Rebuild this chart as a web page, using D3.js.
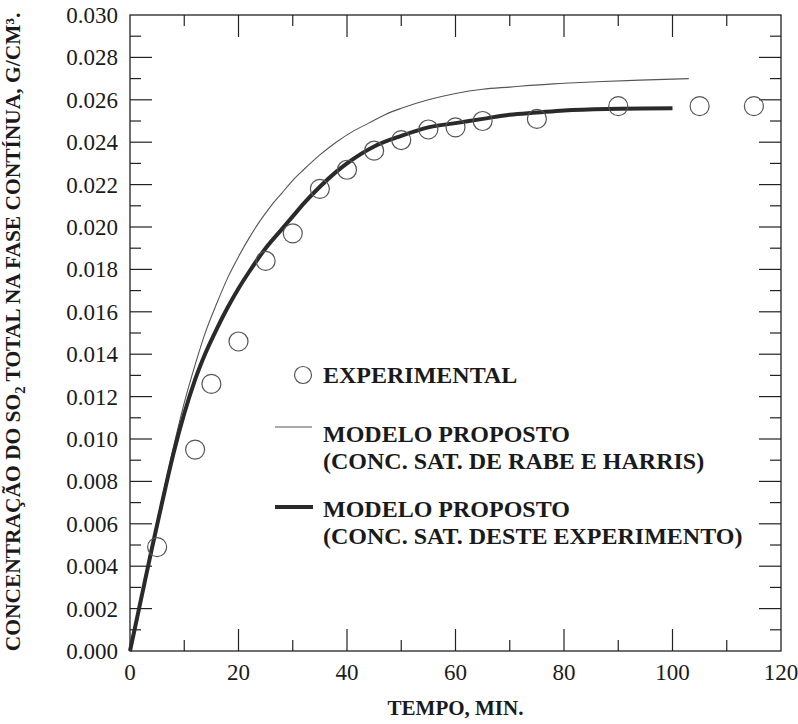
<!DOCTYPE html>
<html>
<head>
<meta charset="utf-8">
<script src="https://cdn.jsdelivr.net/npm/d3@7"></script>
<style>
  html, body { margin: 0; padding: 0; background: #fff; }
  svg { display: block; }
  text { font-family: "Liberation Serif", "Times New Roman", serif; fill: #1a1a1a; }
</style>
</head>
<body>
<svg id="chart" width="798" height="724"></svg>
<script>
// Experimental measurements (time in min, concentration in g/cm3)
const expTime = [5, 12, 15, 20, 25, 30, 35, 40, 45, 50, 55, 60, 65, 75, 90, 105, 115];
const expConc = [0.0049, 0.0095, 0.0126, 0.0146, 0.0184, 0.0197, 0.0218, 0.0227, 0.0236, 0.0241,
                 0.0246, 0.0247, 0.0250, 0.0251, 0.0257, 0.0257, 0.0257];

// Proposed model, saturation concentration from Rabe and Harris (thin line)
const rabeTime = [0, 2, 4, 6, 8, 10, 12, 14, 16, 18, 20, 22, 24, 26, 28, 30, 32, 35, 38, 41, 44, 47,
                  50, 55, 60, 65, 70, 78, 86, 94, 103];
const rabeConc = [0, 0.0025, 0.0049, 0.0073, 0.0096, 0.0117, 0.0135, 0.0151, 0.0164, 0.0176, 0.0186,
                  0.0195, 0.0203, 0.0210, 0.0216, 0.0222, 0.0227, 0.0234, 0.0240, 0.0245, 0.0249,
                  0.0253, 0.0256, 0.0260, 0.0263, 0.0265, 0.0266, 0.02675, 0.02685, 0.02693, 0.0270];

// Proposed model, saturation concentration from this experiment (thick line)
const expModelTime = [0, 2, 4, 6, 8, 10, 12, 14, 16, 18, 20, 22, 25, 28, 30, 32, 35, 38, 40, 45,
                      50, 55, 60, 65, 70, 75, 80, 88, 100];
const expModelConc = [0, 0.0024, 0.0048, 0.0071, 0.0093, 0.0112, 0.0128, 0.0141, 0.0152, 0.0162,
                      0.0171, 0.0179, 0.0190, 0.0199, 0.0205, 0.0211, 0.0219, 0.0226, 0.0230, 0.0238,
                      0.0243, 0.0247, 0.0249, 0.0251, 0.0253, 0.0254, 0.0255, 0.02557, 0.0256];

const xTicks = [0, 20, 40, 60, 80, 100, 120];
const yTicks = [0, 0.002, 0.004, 0.006, 0.008, 0.010, 0.012, 0.014, 0.016, 0.018, 0.020,
                0.022, 0.024, 0.026, 0.028, 0.030];

const legendLabels = [
  ["EXPERIMENTAL"],
  ["MODELO PROPOSTO", "(CONC. SAT. DE RABE E HARRIS)"],
  ["MODELO PROPOSTO", "(CONC. SAT. DESTE EXPERIMENTO)"]
];

const svg = d3.select("#chart");
const L = 130, R = 781, T = 15, B = 651;

const x = d3.scaleLinear().domain([0, 120]).range([L, R]);
const y = d3.scaleLinear().domain([0, 0.030]).range([B, T]);

const ink = "#222";
const majorLen = 22, minorLen = 11;

// Frame
svg.append("rect")
  .attr("x", L).attr("y", T).attr("width", R - L).attr("height", B - T)
  .attr("fill", "none").attr("stroke", ink).attr("stroke-width", 1.3);

// Inward ticks on all four sides
const xMinor = d3.range(10, 120, 20);
const yMinor = d3.range(0.001, 0.030, 0.002);

const tickG = svg.append("g").attr("stroke", ink).attr("stroke-width", 1.2);
function xTicksAt(vals, len) {
  vals.forEach(v => {
    tickG.append("line").attr("x1", x(v)).attr("x2", x(v)).attr("y1", B).attr("y2", B - len);
    tickG.append("line").attr("x1", x(v)).attr("x2", x(v)).attr("y1", T).attr("y2", T + len);
  });
}
function yTicksAt(vals, len) {
  vals.forEach(v => {
    tickG.append("line").attr("y1", y(v)).attr("y2", y(v)).attr("x1", L).attr("x2", L + len);
    tickG.append("line").attr("y1", y(v)).attr("y2", y(v)).attr("x1", R).attr("x2", R - len);
  });
}
xTicksAt(xTicks.slice(1, -1), majorLen);
xTicksAt(xMinor, minorLen);
yTicksAt(yTicks.slice(1, -1), majorLen);
yTicksAt(yMinor, minorLen);

// Tick labels
svg.append("g").selectAll("text").data(xTicks).join("text")
  .attr("x", d => x(d)).attr("y", 680)
  .attr("text-anchor", "middle").attr("font-size", 23)
  .text(d => d);

svg.append("g").selectAll("text").data(yTicks).join("text")
  .attr("x", 118).attr("y", d => y(d) + 8)
  .attr("text-anchor", "end").attr("font-size", 23)
  .text(d => d3.format(".3f")(d));

// Axis titles
svg.append("text")
  .attr("x", (L + R) / 2).attr("y", 715)
  .attr("text-anchor", "middle").attr("font-size", 21).attr("font-weight", "bold")
  .text("TEMPO, MIN.");

const yTitle = svg.append("text")
  .attr("text-anchor", "middle").attr("font-size", 22).attr("font-weight", "bold");
yTitle.append("tspan").text("CONCENTRAÇÃO DO SO");
yTitle.append("tspan").attr("font-size", 15).attr("dy", 5).text("2");
yTitle.append("tspan").attr("dy", -5).text(" TOTAL NA FASE CONTÍNUA, G/CM³.");
const titleLen = yTitle.node().getComputedTextLength();
const sx = 639 / titleLen;
yTitle.attr("transform", `translate(20, 332) rotate(-90) scale(${sx}, 1)`);

// Model curves
const line = d3.line().x(d => x(d[0])).y(d => y(d[1])).curve(d3.curveMonotoneX);

svg.append("path")
  .datum(rabeTime.map((t, i) => [t, rabeConc[i]]))
  .attr("d", line).attr("fill", "none").attr("stroke", "#555").attr("stroke-width", 1.1);

svg.append("path")
  .datum(expModelTime.map((t, i) => [t, expModelConc[i]]))
  .attr("d", line).attr("fill", "none").attr("stroke", "#2a2a2a").attr("stroke-width", 4);

// Experimental points
svg.append("g").selectAll("circle").data(expTime.map((t, i) => [t, expConc[i]])).join("circle")
  .attr("cx", d => x(d[0])).attr("cy", d => y(d[1])).attr("r", 9.5)
  .attr("fill", "none").attr("stroke", "#555").attr("stroke-width", 1.2);

// Legend
const lg = svg.append("g");
lg.append("circle").attr("cx", 303).attr("cy", 375).attr("r", 8.5)
  .attr("fill", "none").attr("stroke", "#555").attr("stroke-width", 1.2);
lg.append("line").attr("x1", 275).attr("x2", 312).attr("y1", 427).attr("y2", 427)
  .attr("stroke", "#555").attr("stroke-width", 1.1);
lg.append("line").attr("x1", 275).attr("x2", 313).attr("y1", 507).attr("y2", 507)
  .attr("stroke", "#2a2a2a").attr("stroke-width", 4);

const legendBase = [[383], [442, 469], [517, 544]];
legendLabels.forEach((lines, i) => {
  lines.forEach((s, j) => {
    lg.append("text").attr("x", 323).attr("y", legendBase[i][j])
      .attr("font-size", 24).attr("font-weight", "bold").text(s);
  });
});
</script>
</body>
</html>
